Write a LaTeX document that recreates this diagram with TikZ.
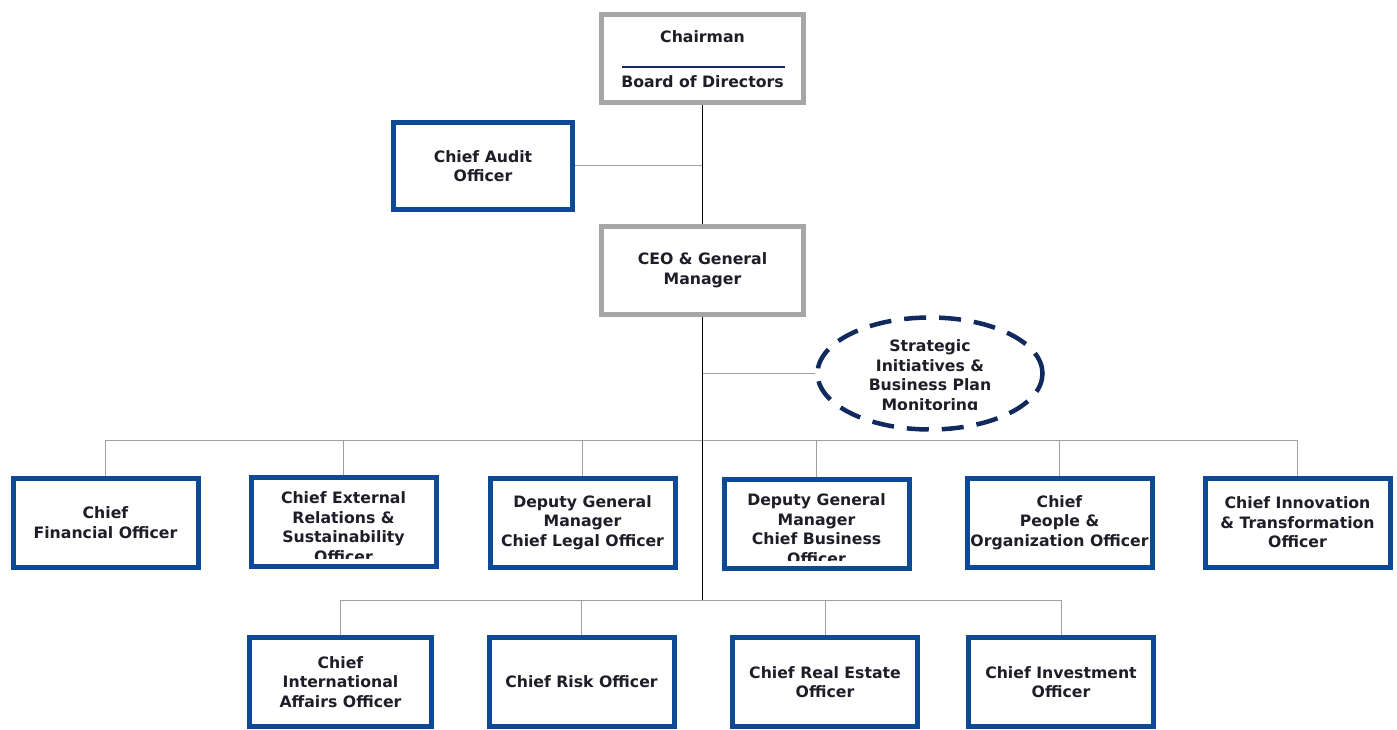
\documentclass[tikz,border=0pt]{standalone}
\usepackage{fontspec}
\setmainfont{DejaVu Sans}
\usetikzlibrary{shapes.geometric}
\newcommand\orgfont{\fontsize{15.7}{19.5}\selectfont\bfseries}
\begin{document}
\begin{tikzpicture}[x=1pt,y=-1pt,
    orgbox/.style={shape=rectangle,draw=org_blue,line width=5pt,fill=white,minimum width=185pt,minimum height=89pt,align=center,inner sep=0pt,font=\orgfont,text=org_text},
    topbox/.style={orgbox,draw=org_gray,minimum width=202pt,minimum height=88pt},
    lbl/.style={align=center,inner sep=0pt,font=\orgfont,text=org_text},
    link/.style={draw=org_line,line width=1pt},
    trunk/.style={draw=black,line width=1.5pt}]
    \definecolor{org_blue}{RGB}{14,73,150}
    \definecolor{org_gray}{RGB}{166,166,166}
    \definecolor{org_navy}{RGB}{16,42,94}
    \definecolor{org_line}{RGB}{160,160,160}
    \definecolor{org_text}{RGB}{30,30,40}
    \useasboundingbox (0,0) rectangle (1397,730);
    \node[topbox] (chair) at (702.5,58.5) {};
    \node[lbl] (chair-top) at (702.5,37) {Chairman};
    \node[lbl] (chair-bot) at (702.5,82) {Board of Directors};
    \draw[draw=org_navy,line width=1.5pt] (622,67) -- (785,67);
    \node[orgbox,minimum width=179pt,minimum height=87pt] (audit) at (483,166) {Chief Audit\\Officer};
    \node[topbox] (ceo) at (702.5,270) {CEO \& General\\Manager};
    \node[shape=ellipse,draw=org_navy,line width=4.5pt,dash pattern=on 22pt off 13pt,fill=white,minimum width=225pt,minimum height=112pt] (sim) at (930,373.5) {};
    \begin{scope}
    \clip (815,320) rectangle (1045,409);
    \node[lbl] (sim-text) at (930,376.5) {Strategic\\Initiatives \&\\Business Plan\\Monitoring};
    \end{scope}
    \node[orgbox] (cfo) at (105.5,522.5) {Chief\\Financial Officer};
    \node[orgbox] (cers) at (343.5,522) {};
    \begin{scope}
    \clip (250,480) rectangle (437,558);
    \node[lbl] (cers-text) at (343.5,527) {Chief External\\Relations \&\\Sustainability\\Officer};
    \end{scope}
    \node[orgbox] (dgml) at (582.5,522.5) {Deputy General\\Manager\\Chief Legal Officer};
    \node[orgbox] (dgmb) at (816.5,524) {};
    \begin{scope}
    \clip (723,480) rectangle (910,560);
    \node[lbl] (dgmb-text) at (816.5,529) {Deputy General\\Manager\\Chief Business\\Officer};
    \end{scope}
    \node[orgbox] (cpo) at (1059.5,522.5) {Chief\\People \&\\Organization Officer};
    \node[orgbox] (cito) at (1297.5,522.5) {Chief Innovation\\\& Transformation\\Officer};
    \node[orgbox,minimum width=182pt] (ciao) at (340.5,682) {Chief\\International\\Affairs Officer};
    \node[orgbox] (cro) at (581.5,682) {Chief Risk Officer};
    \node[orgbox] (creo) at (825,682) {Chief Real Estate\\Officer};
    \node[orgbox] (cio) at (1061,682) {Chief Investment\\Officer};
    % connectors
    \coordinate (row1) at (702.5,440);
    \coordinate (row2) at (702.5,600);
    \draw[link] (audit.east) -- (audit.east -| ceo.north);
    \draw[link] (sim.west) -- (sim.west -| ceo.south);
    \foreach \n in {cfo,cers,dgml,dgmb,cpo,cito}
        \draw[link] (\n.north) |- (row1);
    \foreach \n in {ciao,cro,creo,cio}
        \draw[link] (\n.north) |- (row2);
    \draw[trunk] (chair.south) -- (ceo.north);
    \draw[trunk] (ceo.south) -- (row2);
\end{tikzpicture}
\end{document}
